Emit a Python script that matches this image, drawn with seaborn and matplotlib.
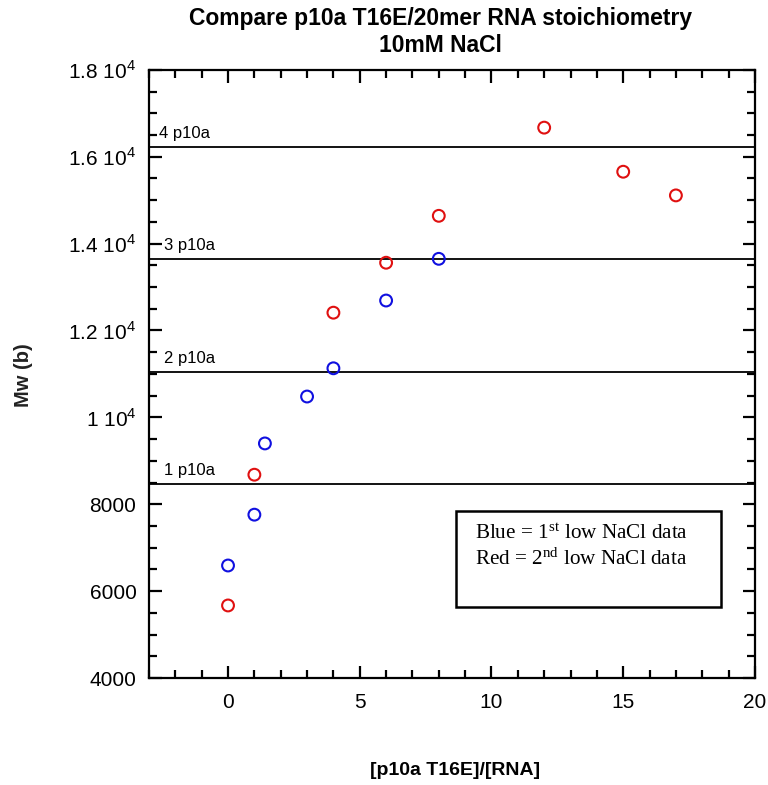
import matplotlib
matplotlib.use("Agg")
import matplotlib.pyplot as plt
import seaborn as sns
import numpy as np
import pandas as pd
from matplotlib.ticker import MultipleLocator, FixedLocator, FixedFormatter
from matplotlib.patches import Rectangle

# ---- data ----
blue_x = [0, 1, 1.4, 3, 4, 6, 8]
blue_y = [6590, 7760, 9400, 10480, 11130, 12690, 13650]
red_x = [0, 1, 4, 6, 8, 12, 15, 17]
red_y = [5670, 8680, 12410, 13560, 14640, 16670, 15655, 15110]
ref_levels = [8465, 11050, 13635, 16215]
ref_labels = ["1 p10a", "2 p10a", "3 p10a", "4 p10a"]
ytick_vals = [4000, 6000, 8000, 10000, 12000, 14000, 16000, 18000]
ytick_labels = ["4000", "6000", "8000", r"1 10$^4$", r"1.2 10$^4$", r"1.4 10$^4$", r"1.6 10$^4$", r"1.8 10$^4$"]
xtick_vals = [0, 5, 10, 15, 20]

sns.set_theme(style="white")
plt.rcParams['font.family'] = ['Liberation Sans', 'DejaVu Sans']
plt.rcParams['mathtext.fontset'] = 'custom'
plt.rcParams['mathtext.rm'] = 'Liberation Sans'
plt.rcParams['text.color'] = 'black'
plt.rcParams['axes.labelcolor'] = 'black'

fig = plt.figure(figsize=(7.68, 7.85), dpi=100)
ax = fig.add_axes([0.194, 0.1363, 0.789, 0.7747])

for lvl in ref_levels:
    ax.axhline(lvl, color='black', lw=1.3, zorder=1)
label_x = [-2.42, -2.42, -2.42, -2.63]
for lx, lvl, lab in zip(label_x, ref_levels, ref_labels):
    ax.text(lx, lvl + 140, lab, fontsize=12, ha='left', va='bottom', color='black')

bdf = pd.DataFrame({"x": blue_x, "y": blue_y})
rdf = pd.DataFrame({"x": red_x, "y": red_y})
sns.scatterplot(data=rdf, x="x", y="y", ax=ax, marker='o', s=72,
                facecolors='none', edgecolors='#e01010', linewidth=1.5, zorder=3)
sns.scatterplot(data=bdf, x="x", y="y", ax=ax, marker='o', s=72,
                facecolors='none', edgecolors='#1010e0', linewidth=1.5, zorder=3)

ax.set_xlim(-3, 20)
ax.set_ylim(4000, 18000)
ax.xaxis.set_major_locator(FixedLocator(xtick_vals))
ax.xaxis.set_minor_locator(MultipleLocator(1))
ax.yaxis.set_major_locator(FixedLocator(ytick_vals))
ax.yaxis.set_major_formatter(FixedFormatter(ytick_labels))
ax.yaxis.set_minor_locator(MultipleLocator(500))

ax.tick_params(which='both', direction='in', top=True, right=True, bottom=True, left=True,
               color='black', width=1.6)
ax.tick_params(which='major', length=9, labelsize=15, pad=9, labelcolor='black')
ax.tick_params(which='minor', length=5.5)
ax.tick_params(axis='x', which='major', pad=11)
ax.tick_params(axis='y', labelright=False, labeltop=False)

for sp in ax.spines.values():
    sp.set_visible(True)
    sp.set_color('black')
    sp.set_linewidth(1.6)

ax.set_xlabel("")
ax.set_ylabel("")
fig.text(0.593, 0.019, "[p10a T16E]/[RNA]", ha='center', va='center', fontsize=14, fontweight='bold')
fig.text(0.03, 0.522, "Mw (b)", ha='center', va='center', rotation=90, fontsize=14.5, fontweight='bold', color='#222222')
fig.text(0.573, 0.976, "Compare p10a T16E/20mer RNA stoichiometry", ha='center', va='center',
         fontsize=16.5, fontweight='bold')
fig.text(0.573, 0.942, "10mM NaCl", ha='center', va='center', fontsize=16.5, fontweight='bold')

# annotation box
box = Rectangle((456 / 768, 1 - 606.5 / 785), (721 - 456) / 768, (606.5 - 510.5) / 785,
                transform=fig.transFigure, fill=False, edgecolor='black', lw=1.8, zorder=5)
fig.patches.append(box)
serif = ['Liberation Serif', 'DejaVu Serif']
fig.text(475 / 768, 1 - 534 / 785, r"Blue = 1$^{\mathregular{st}}$ low NaCl data", family=serif,
         fontsize=15.2, ha='left', va='center', math_fontfamily='stix')
fig.text(475 / 768, 1 - 559 / 785, r"Red = 2$^{\mathregular{nd}}$ low NaCl data", family=serif,
         fontsize=15.2, ha='left', va='center', math_fontfamily='stix')

fig.savefig("out.png", dpi=100)
